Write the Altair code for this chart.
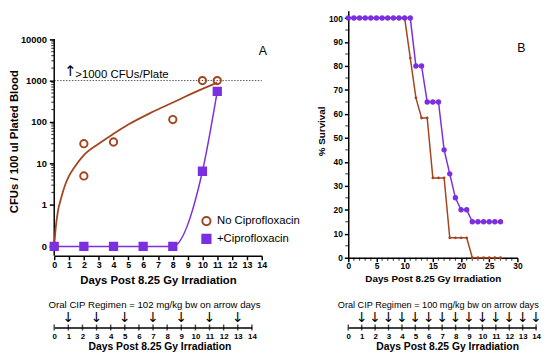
import math
import altair as alt
import pandas as pd

BROWN = "#A3451F"
PURPLE = "#7B2FE0"
FONT = "Liberation Sans"

# ---------------- Panel A data (CFUs / 100 ul plated blood) ----------------
groups = ["No Ciprofloxacin", "+Ciprofloxacin"]
a_nocip_day = [0, 2, 2, 4, 8, 10, 11]
a_nocip_cfu = [0, 30, 5, 33, 115, 1000, 1000]
a_cip_day = [0, 2, 4, 6, 8, 10, 11]
a_cip_cfu = [0, 0, 0, 0, 0, 6.5, 550]
a_fit_day = [0, 0.1, 0.25, 0.45, 0.7, 1.0, 1.4, 2, 3, 4, 5, 6.5, 8, 9.5, 11]
a_fit_cfu = [0, 0.28, 0.71, 1.4, 2.8, 5.0, 8.5, 16, 30, 52, 87, 166, 295, 525, 890]
a_ytick_labels = ["0", "1", "10", "100", "1000", "10000"]
a_limit_cfu = 1000
a_limit_text = ">1000 CFUs/Plate"
a_days_ticks = list(range(0, 15))
a_minor_mult = [2, 3, 4, 5, 6, 7, 8, 9]
a_minor_decades = [1, 10, 100, 1000]

# ---------------- Panel B data (% survival) ----------------
b_days = [0, 1, 2, 3, 4, 5, 6, 7, 8, 9, 10, 11, 12, 13, 14, 15, 16, 17, 18, 19,
          20, 21, 22, 23, 24, 25, 26, 27]
b_nocip = [100, 100, 100, 100, 100, 100, 100, 100, 100, 100, 100, 83.3, 66.7, 58.3,
           58.3, 33.3, 33.3, 33.3, 8.3, 8.3, 8.3, 8.3, 0, 0, 0, 0, 0, 0]
b_cip = [100, 100, 100, 100, 100, 100, 100, 100, 100, 100, 100, 100, 80, 80,
         65, 65, 65, 45, 35, 25, 20, 20, 15, 15, 15, 15, 15, 15]
b_xticks = [0, 5, 10, 15, 20, 25, 30]
b_yticks = [0, 10, 20, 30, 40, 50, 60, 70, 80, 90, 100]
b_xminor = [d for d in range(1, 30) if d % 5 != 0]
b_yminor = [5, 15, 25, 35, 45, 55, 65, 75, 85, 95]

# ---------------- Dosing timelines ----------------
tl_days = list(range(0, 15))
tlA_arrow_days = [1, 3, 5, 7, 9, 11, 13]
tlB_arrow_days = [1, 2, 3, 4, 5, 6, 7, 8, 9, 10, 11, 12, 13, 14]
tlA_title = "Oral CIP Regimen = 102 mg/kg bw on arrow days"
tlB_title = "Oral CIP Regimen = 100 mg/kg bw on arrow days"
x_title = "Days Post 8.25 Gy Irradiation"


def u(v):
    # log axis where the "0" category sits one decade below 1
    return math.log10(v) if v >= 0.1 else -1.0


A_YMIN, A_YMAX = -1.225, 4.681

# ---------------- Panel A ----------------
label_expr = "[" + ",".join("'%s'" % s for s in a_ytick_labels) + "][datum.value + 1]"
X_A = alt.X("day:Q", scale=alt.Scale(domain=[0, 14], nice=False, zero=False),
            axis=alt.Axis(values=a_days_ticks, title=x_title, labelFontSize=9,
                          tickSize=4, labelPadding=1, titleFontSize=11.5, titlePadding=5,
                          domainWidth=1.5, tickWidth=1.5, labelFlush=False,
                          labelOverlap=False))
Y_A = alt.Y("u:Q", scale=alt.Scale(domain=[A_YMIN, A_YMAX], nice=False, zero=False),
            axis=alt.Axis(values=[-1, 0, 1, 2, 3, 4], labelExpr=label_expr, domain=False,
                          tickSize=5, labelPadding=3, labelFontSize=9.5,
                          title="CFUs / 100 ul Plated Blood", titleFontSize=11.5,
                          titlePadding=1, titleY=132.5, tickWidth=1.5, labelFlush=False,
                          labelOverlap=False))

df_fit = pd.DataFrame({"day": a_fit_day, "u": [u(v) for v in a_fit_cfu]})
df_cip = pd.DataFrame({"day": a_cip_day, "u": [u(v) for v in a_cip_cfu]})
df_pts = pd.concat([
    pd.DataFrame({"day": a_nocip_day, "u": [u(v) for v in a_nocip_cfu], "group": groups[0]}),
    pd.DataFrame({"day": a_cip_day, "u": [u(v) for v in a_cip_cfu], "group": groups[1]}),
])
df_limit = pd.DataFrame({"day": [0], "day2": [14], "u": [u(a_limit_cfu)]})
df_axis = pd.DataFrame({"day": [0], "u": [A_YMIN], "u2": [4]})
df_minor = pd.DataFrame({"day": 0, "u": [math.log10(m * d) for d in a_minor_decades for m in a_minor_mult]})
df_arrow = pd.DataFrame({"day": [1.07], "u": [3.23], "t": ["↑"]})
df_ltext = pd.DataFrame({"day": [1.42], "u": [3.13], "t": [a_limit_text]})
df_Alab = pd.DataFrame({"day": [14.07], "u": [3.71], "t": ["A"]})

leg = alt.Legend(title=None, orient="none", legendX=149, legendY=208, labelFontSize=11.5,
                 labelFont=FONT, labelFontWeight="normal", labelColor="black",
                 symbolSize=70, symbolStrokeWidth=2, rowPadding=1, labelOffset=5, padding=0)

fit_line = alt.Chart(df_fit).mark_line(color=BROWN, strokeWidth=1.8, interpolate="monotone").encode(x=X_A, y=Y_A)
cip_line = alt.Chart(df_cip).mark_line(color=PURPLE, strokeWidth=1.5, interpolate="monotone").encode(x=X_A, y=Y_A)
limit_line = alt.Chart(df_limit).mark_rule(color="#555555", strokeDash=[1.5, 1.5], strokeWidth=1).encode(
    x=X_A, x2="day2:Q", y=Y_A)
axis_line = alt.Chart(df_axis).mark_rule(color="black", strokeWidth=1.5).encode(x=X_A, y=Y_A, y2="u2:Q")
minor_a = alt.Chart(df_minor).mark_tick(orient="horizontal", size=3, thickness=1.2, color="black",
                                        xOffset=-1.5).encode(x=X_A, y=Y_A)
pts_a = alt.Chart(df_pts).mark_point(filled=True, size=55, strokeWidth=2, opacity=1).encode(
    x=X_A, y=Y_A,
    shape=alt.Shape("group:N", scale=alt.Scale(domain=groups, range=["circle", "square"]), legend=leg),
    stroke=alt.Stroke("group:N", scale=alt.Scale(domain=groups, range=[BROWN, PURPLE]), legend=leg),
    fill=alt.Fill("group:N", scale=alt.Scale(domain=groups, range=["rgba(0,0,0,0)", PURPLE]), legend=leg),
)
arrow_a = alt.Chart(df_arrow).mark_text(fontSize=15, font="DejaVu Sans", color="black").encode(
    x=X_A, y=Y_A, text="t:N")
ltext_a = alt.Chart(df_ltext).mark_text(fontSize=11.6, align="left", baseline="middle", color="black").encode(
    x=X_A, y=Y_A, text="t:N")
alab_a = alt.Chart(df_Alab).mark_text(fontSize=12.5, color="black").encode(x=X_A, y=Y_A, text="t:N")

topA = alt.layer(limit_line, axis_line, minor_a, fit_line, cip_line, pts_a, arrow_a, ltext_a, alab_a
                 ).properties(width=211, height=249)

# ---------------- Panel B ----------------
X_B = alt.X("day:Q", scale=alt.Scale(domain=[0, 30], nice=False, zero=False),
            axis=alt.Axis(values=b_xticks, title=x_title, labelFontSize=8.5, tickSize=4,
                          labelPadding=0, titleFontSize=10, titlePadding=4, domainWidth=1.5,
                          tickWidth=1.5, labelFlush=False))
Y_B = alt.Y("s:Q", scale=alt.Scale(domain=[0, 103], nice=False, zero=False),
            axis=alt.Axis(values=b_yticks, title="% Survival", labelFontSize=8.5, tickSize=4,
                          labelPadding=2, titleFontSize=10, titlePadding=2, titleY=122,
                          domainWidth=1.5, tickWidth=1.5, labelFlush=False))

df_b_nocip = pd.DataFrame({"day": b_days, "s": b_nocip})
df_b_cip = pd.DataFrame({"day": b_days, "s": b_cip})
df_bxm = pd.DataFrame({"day": b_xminor, "s": 0})
df_bym = pd.DataFrame({"day": 0, "s": b_yminor})
df_Blab = pd.DataFrame({"day": [30.7], "s": [87.4], "t": ["B"]})

b_nocip_line = alt.Chart(df_b_nocip).mark_line(color=BROWN, strokeWidth=1.5).encode(x=X_B, y=Y_B)
b_nocip_pts = alt.Chart(df_b_nocip).mark_circle(color=BROWN, size=8, opacity=1).encode(x=X_B, y=Y_B)
b_cip_line = alt.Chart(df_b_cip).mark_line(color=PURPLE, strokeWidth=1.5).encode(x=X_B, y=Y_B)
b_cip_pts = alt.Chart(df_b_cip).mark_circle(color=PURPLE, size=30, opacity=1).encode(x=X_B, y=Y_B)
b_xm = alt.Chart(df_bxm).mark_tick(orient="vertical", size=3, thickness=1.2, color="black",
                                   yOffset=1.5).encode(x=X_B, y=Y_B)
b_ym = alt.Chart(df_bym).mark_tick(orient="horizontal", size=3, thickness=1.2, color="black",
                                   xOffset=-1.5).encode(x=X_B, y=Y_B)
b_lab = alt.Chart(df_Blab).mark_text(fontSize=12.5, color="black").encode(x=X_B, y=Y_B, text="t:N")

topB = alt.layer(b_xm, b_ym, b_nocip_line, b_nocip_pts, b_cip_line, b_cip_pts, b_lab
                 ).properties(width=172, height=251)


# ---------------- Timelines ----------------
def timeline(arrow_days, title, width, title_x, title_dx, title_size):
    X_T = alt.X("day:Q", scale=alt.Scale(domain=[0, 14], nice=False, zero=False),
                axis=alt.Axis(values=tl_days, labelFontSize=8, ticks=False, tickSize=0,
                              labelPadding=5, domainWidth=1.5, title=x_title,
                              titleFontSize=10.5, titlePadding=1.5, titleX=title_x,
                              labelFlush=False, labelOverlap=False))
    Y_T = alt.Y("v:Q", scale=alt.Scale(domain=[0, 1]), axis=None)
    ticks = alt.Chart(pd.DataFrame({"day": tl_days, "v": 0})).mark_tick(
        orient="vertical", size=6, thickness=1.5, color="black").encode(x=X_T, y=Y_T)
    arrows = alt.Chart(pd.DataFrame({"day": arrow_days, "v": 0.47, "t": "↓"})).mark_text(
        fontSize=14, font="DejaVu Sans", color="black", baseline="middle").encode(
        x=X_T, y=Y_T, text="t:N")
    return alt.layer(ticks, arrows).properties(
        width=width, height=20,
        title=alt.TitleParams(title, fontSize=title_size, fontWeight="normal", font=FONT,
                              color="black", offset=-2, dx=title_dx, frame="group"))


tlA = timeline(tlA_arrow_days, tlA_title, 201, 107, 1.5, 9.8)
tlB = timeline(tlB_arrow_days, tlB_title, 191, 100.5, -4, 9.3)

chart = alt.concat(topA, topB, tlA, tlB, columns=2).properties(
    align="none", bounds="flush", spacing={"row": 51, "column": 88}, padding=0,
    background="white"
).configure_view(stroke=None).configure_axis(
    labelFont=FONT, titleFont=FONT, labelFontWeight="bold", titleFontWeight="bold",
    labelColor="black", titleColor="black", domainColor="black", tickColor="black", grid=False
).configure_text(font=FONT).configure_title(font=FONT, color="black")

chart.save("out.html", embed_options={"renderer": "svg", "actions": False})
